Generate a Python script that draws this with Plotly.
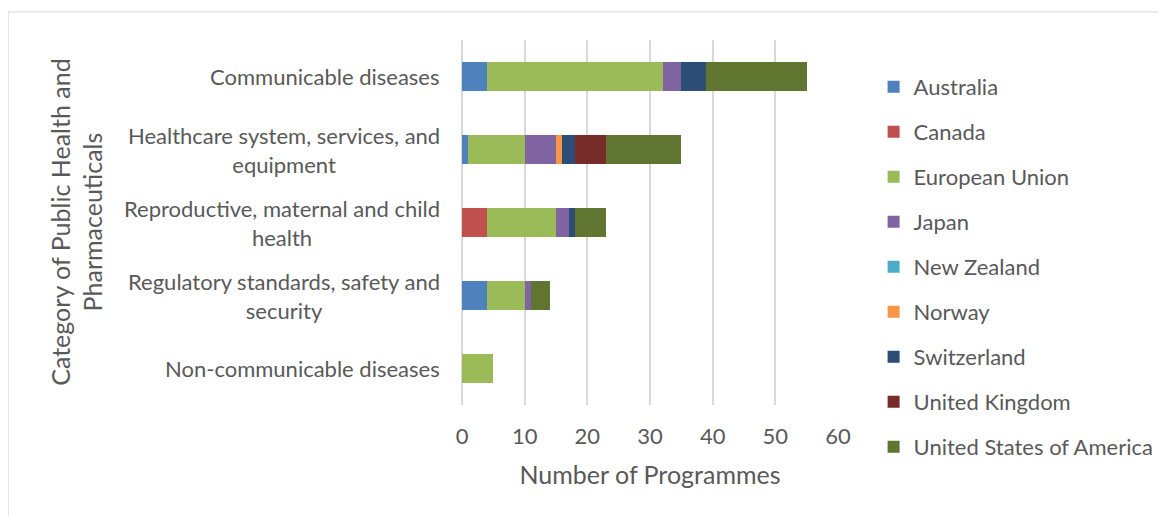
import plotly.graph_objects as go

# Categories, top to bottom
categories = [
    "Communicable diseases",
    "Healthcare system, services, and equipment",
    "Reproductive, maternal and child health",
    "Regulatory standards, safety and security",
    "Non-communicable diseases",
]
category_labels = [
    "Communicable diseases",
    "Healthcare system, services, and<br>equipment",
    "Reproductive, maternal and child<br>health",
    "Regulatory standards, safety and<br>security",
    "Non-communicable diseases",
]

countries = [
    "Australia", "Canada", "European Union", "Japan", "New Zealand",
    "Norway", "Switzerland", "United Kingdom", "United States of America",
]

# Number of programmes per country, in category order above
australia = [4, 1, 0, 4, 0]
canada = [0, 0, 4, 0, 0]
european_union = [28, 9, 11, 6, 5]
japan = [3, 5, 2, 1, 0]
new_zealand = [0, 0, 0, 0, 0]
norway = [0, 1, 0, 0, 0]
switzerland = [4, 2, 1, 0, 0]
united_kingdom = [0, 5, 0, 0, 0]
usa = [16, 12, 5, 3, 0]

series = [australia, canada, european_union, japan, new_zealand,
          norway, switzerland, united_kingdom, usa]
colors = ["#4F81BD", "#C0504D", "#9BBB59", "#8064A2", "#4BACC6",
          "#F79646", "#2C4D75", "#772C2A", "#5F7530"]

FONT = "Lato, Carlito, Calibri, sans-serif"
GREY = "#595959"

fig = go.Figure()
for name, vals, col in zip(countries, series, colors):
    fig.add_trace(go.Bar(
        y=categories, x=vals, name=name, orientation="h",
        marker=dict(color=col, line=dict(width=0)),
        legendgroup=name,
    ))

# category labels (centered multi-line, like the original)
for cat, lab in zip(categories, category_labels):
    fig.add_annotation(
        x=0, xref="paper", y=cat, yref="y", text=lab, showarrow=False,
        xanchor="right", xshift=-20, align="center",
        font=dict(family=FONT, size=22, color=GREY),
    )

# y axis title
fig.add_annotation(
    x=-1.115, xref="paper", y=0.5, yref="paper",
    text="Category of Public Health and<br>Pharmaceuticals",
    textangle=-90, showarrow=False, align="center",
    font=dict(family=FONT, size=25, color=GREY),
)

# outer chart border
fig.add_shape(type="rect", xref="paper", yref="paper",
              x0=-1.207, x1=2.0, y0=-1.0, y1=1.077,
              line=dict(color="#D9D9D9", width=1), layer="below")

fig.update_layout(
    width=1158, height=508,
    barmode="stack", bargap=0.6,
    margin=dict(l=454, r=328, t=32, b=111),
    paper_bgcolor="white", plot_bgcolor="white",
    font=dict(family=FONT, size=22, color=GREY),
    showlegend=True,
    legend=dict(
        xref="container", yref="container",
        x=0.7475, xanchor="left", y=0.886, yanchor="top",
        traceorder="grouped", tracegroupgap=13.4, maxheight=480,
        font=dict(family=FONT, size=22, color=GREY),
        bgcolor="rgba(0,0,0,0)",
    ),
    xaxis=dict(
        range=[0, 60], dtick=10, showgrid=True,
        gridcolor="#D9D9D9", gridwidth=2,
        zeroline=True, zerolinecolor="#D9D9D9", zerolinewidth=2,
        showline=False, ticks="", ticklabelstandoff=16,
        tickfont=dict(family=FONT, size=22, color=GREY),
        title=dict(text="Number of Programmes", standoff=18,
                   font=dict(family=FONT, size=25, color=GREY)),
    ),
    yaxis=dict(
        categoryorder="array", categoryarray=categories,
        autorange="reversed", showticklabels=False,
        showgrid=False, zeroline=False, showline=False, ticks="",
    ),
)

fig.write_html("out.html")
